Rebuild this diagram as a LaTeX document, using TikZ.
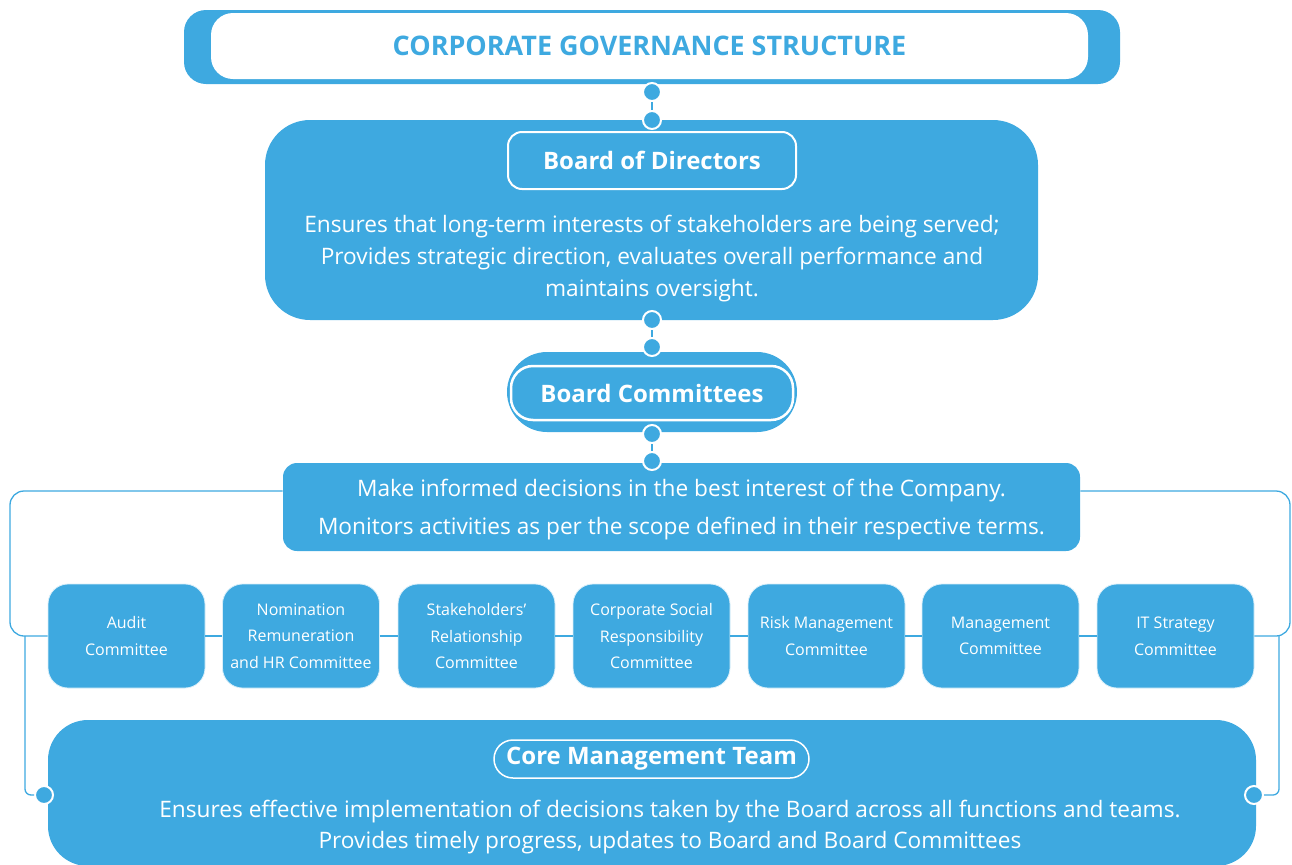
\documentclass[tikz,border=0pt]{standalone}
\usepackage{fontspec}
\setmainfont{Open Sans}

\definecolor{govblue}{RGB}{62,169,224}
\newlength{\du}
\setlength{\du}{0.75pt}

\tikzset{
  panel/.style={fill=govblue, inner sep=0pt, text=white, align=center},
  tag/.style={draw=white, line width=2\du, inner sep=0pt, text=white, font=\bfseries\fontsize{18}{21}\selectfont},
  knob/.style={circle, fill=govblue, draw=white, line width=2\du, minimum size=18\du, inner sep=0pt},
  link/.style={draw=govblue, line width=1.3\du},
  comm/.style={panel, draw=white!80!govblue, line width=0.8\du, rounded corners=20\du,
    minimum width=157\du, minimum height=104\du, font=\fontsize{12}{20}\selectfont},
}

\begin{document}
\begin{tikzpicture}[x=\du, y=-\du]
\useasboundingbox (0,0) rectangle (1292,864);

% title bar
\node[panel, rounded corners=22\du, minimum width=936\du, minimum height=74\du] (titlebar) at (652,47) {};
\node[fill=white, rounded corners=22\du, minimum width=877\du, minimum height=66\du, inner sep=0pt,
  text=govblue, font=\bfseries\fontsize{20.2}{23}\selectfont] (title) at (649.5,46) {\raisebox{-2\du}{CORPORATE GOVERNANCE STRUCTURE}};

% board of directors
\node[panel, rounded corners=45\du, minimum width=773\du, minimum height=200\du] (bod) at (651.5,220) {};
\node[tag, rounded corners=14\du, minimum width=288\du, minimum height=57\du] (bodtag) at (652,160.5) {\raisebox{-2\du}{Board of Directors}};
\node[text=white, align=center, font=\fontsize{17}{24}\selectfont] (boddesc) at (652,259)
  {Ensures that long-term interests of stakeholders are being served;\\
   Provides strategic direction, evaluates overall performance and\\
   maintains oversight.};

% board committees
\node[panel, rounded corners=40\du, minimum width=290\du, minimum height=80\du] (bcouter) at (652,392) {};
\node[tag, fill=govblue, line width=2.5\du, rounded corners=22\du, minimum width=282\du, minimum height=54\du] (bc) at (652,393) {Board Committees};

\node[panel, rounded corners=14\du, minimum width=797\du, minimum height=88\du] (desc) at (681.5,507) {};
\node[text=white, align=center, font=\fontsize{17}{28.5}\selectfont] (desctext) at (681.5,510)
  {Make informed decisions in the best interest of the Company.\\
   Monitors activities as per the scope defined in their respective terms.};

% committees
\node[comm] (c1) at (126.5,636) {Audit\\Committee};
\node[comm] (c2) at (301,636) {Nomination\\Remuneration\\and HR Committee};
\node[comm] (c3) at (476.5,636) {Stakeholders'\\Relationship\\Committee};
\node[comm] (c4) at (651.5,636) {Corporate Social\\Responsibility\\Committee};
\node[comm] (c5) at (826.5,636) {Risk Management\\Committee};
\node[comm] (c6) at (1000.5,636) {Management\\Committee};
\node[comm] (c7) at (1175.5,636) {IT Strategy\\Committee};
\foreach \a/\b in {c1/c2,c2/c3,c3/c4,c4/c5,c5/c6,c6/c7}
  \draw[link] (\a.east) -- (\b.west);

% core management team
\node[panel, rounded corners=40\du, minimum width=1208\du, minimum height=146\du] (cmt) at (652,793) {};
\node[tag, line width=1.5\du, rounded corners=19\du, minimum width=315\du, minimum height=38\du] (cmttag) at (651.5,759) {\raisebox{-2\du}{Core Management Team}};
\node[text=white, align=center, font=\fontsize{17}{23}\selectfont] (cmtdesc) at (670,827)
  {Ensures effective implementation of decisions taken by the Board across all functions and teams.\\
   Provides timely progress, updates to Board and Board Committees};

% side loops
\coordinate (lbend) at (10,491);
\coordinate (rbend) at (1290,491);
\coordinate (ldrop) at (25,636);
\coordinate (rdrop) at (1279,636);
\draw[link, rounded corners=14\du] (desc.west |- lbend) -| (lbend |- c1.west) -- (c1.west);
\draw[link, rounded corners=14\du] (desc.east |- rbend) -| (rbend |- c7.east) -- (c7.east);
\node[knob] (ldot) at (44,795) {};
\node[knob] (rdot) at (1254,795) {};
\draw[link, rounded corners=6\du] (ldrop) |- (ldot);
\draw[link, rounded corners=6\du] (rdrop) |- (rdot);

% knobs between levels
\node[knob] (k1) at (652,92) {};
\node[knob] (k2) at (652,120) {};
\node[knob] (k3) at (652,320) {};
\node[knob] (k4) at (652,347) {};
\node[knob] (k5) at (652,434) {};
\node[knob] (k6) at (652,461) {};
\draw[link] (k1) -- (k2);
\draw[link] (k3) -- (k4);
\draw[link] (k5) -- (k6);
\end{tikzpicture}
\end{document}
